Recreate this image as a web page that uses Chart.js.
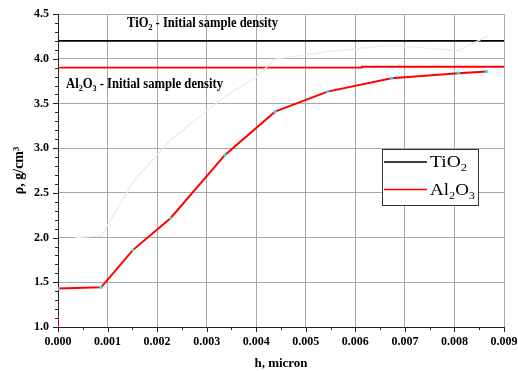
<!DOCTYPE html>
<html><head><meta charset="utf-8">
<script src="https://cdn.jsdelivr.net/npm/chart.js@4/dist/chart.umd.min.js"></script>
<style>html,body{margin:0;padding:0;background:#fff}</style>
</head><body>
<canvas id="c" width="518" height="371" style="display:block"></canvas>
<script>
// ---- data ----
const xTickLabels = ['0.000','0.001','0.002','0.003','0.004','0.005','0.006','0.007','0.008','0.009'];
const yTickLabels = ['1.0','1.5','2.0','2.5','3.0','3.5','4.0','4.5'];
const al2o3H   = [0, 0.00087, 0.00151, 0.00227, 0.00337, 0.00438, 0.00544, 0.00673, 0.00808, 0.00865];
const al2o3Rho = [1.43, 1.444, 1.86, 2.216, 2.924, 3.408, 3.632, 3.782, 3.838, 3.856];
const al2o3EdgeH   = [0, 0];
const al2o3EdgeRho = [1.0, 1.12];
const tio2H   = [0.00035, 0.00088, 0.00098, 0.00152, 0.00225, 0.00337, 0.00397, 0.00438, 0.00545, 0.00673, 0.00808, 0.00868];
const tio2Rho = [2.0, 2.02, 2.12, 2.625, 3.08, 3.58, 3.78, 3.995, 4.08, 4.15, 4.09, 4.255];
const tio2InitH   = [0, 0.009];
const tio2InitRho = [4.2, 4.2];
const al2o3InitH   = [0, 0.00613, 0.00613, 0.009];
const al2o3InitRho = [3.9, 3.9, 3.91, 3.91];

const pts = (xs, ys) => xs.map((x, i) => ({x, y: ys[i]}));
const SERIF = '"Liberation Serif","Times New Roman",serif';

function drawParts(ctx, parts, x, y, size, bold, targetW) {
  const w = bold ? 'bold ' : '';
  const main = w + size + 'px ' + SERIF;
  const sub = w + Math.round(size * 0.65) + 'px ' + SERIF;
  let total = 0;
  parts.forEach(p => { ctx.font = p[1] ? sub : main; total += ctx.measureText(p[0]).width; });
  const sx = targetW ? targetW / total : 1;
  ctx.save();
  ctx.translate(x, y);
  ctx.scale(sx, 1);
  ctx.textBaseline = 'alphabetic';
  ctx.textAlign = 'left';
  ctx.fillStyle = '#000';
  let cx = 0;
  parts.forEach(p => {
    ctx.font = p[1] ? sub : main;
    ctx.fillText(p[0], cx, p[1] ? size * 0.22 : 0);
    cx += ctx.measureText(p[0]).width;
  });
  ctx.restore();
}

const extras = {
  id: 'extras',
  afterDraw(chart) {
    const ctx = chart.ctx;
    const xs = chart.scales.x, ys = chart.scales.y;
    const area = chart.chartArea;
    ctx.save();
    ctx.strokeStyle = '#222';
    ctx.lineWidth = 1;
    for (let k = 0; k <= 35; k++) {
      const v = 1 + k * 0.1;
      const py = Math.round(ys.getPixelForValue(v)) + 0.5;
      const len = (k % 5 === 0) ? 5 : 3;
      ctx.beginPath(); ctx.moveTo(area.left - len, py); ctx.lineTo(area.left, py); ctx.stroke();
    }
    for (let k = 0; k <= 18; k++) {
      const v = k * 0.0005;
      const px = Math.round(xs.getPixelForValue(v)) + 0.5;
      const len = (k % 2 === 0) ? 5 : 3;
      ctx.beginPath(); ctx.moveTo(px, area.bottom); ctx.lineTo(px, area.bottom + len); ctx.stroke();
    }
    ctx.restore();

    drawParts(ctx, [['TiO',0],['2',1],[' - Initial sample density',0]], 127, 27, 14, true, 151);
    drawParts(ctx, [['Al',0],['2',1],['O',0],['3',1],[' - Initial sample density',0]], 66, 88, 14, true, 157);

    ctx.save();
    ctx.fillStyle = '#fff';
    ctx.fillRect(382, 149, 96, 56);
    ctx.strokeStyle = '#333';
    ctx.lineWidth = 1;
    ctx.strokeRect(382.5, 149.5, 96, 56);
    ctx.lineWidth = 1.5;
    ctx.strokeStyle = '#000';
    ctx.beginPath(); ctx.moveTo(384, 162); ctx.lineTo(427, 162); ctx.stroke();
    ctx.strokeStyle = '#ff0000';
    ctx.beginPath(); ctx.moveTo(384, 189.5); ctx.lineTo(427, 189.5); ctx.stroke();
    ctx.restore();
    drawParts(ctx, [['TiO',0],['2',1]], 430, 167, 17, false, 37);
    drawParts(ctx, [['Al',0],['2',1],['O',0],['3',1]], 430, 195, 17, false, 45);
  }
};

new Chart(document.getElementById('c'), {
  type: 'line',
  data: {
    datasets: [
      {label: 'TiO2 measured', data: pts(tio2H, tio2Rho), borderColor: '#ebebeb', borderWidth: 1.3, pointRadius: 0, tension: 0},
      {label: 'Al2O3 edge', data: pts(al2o3EdgeH, al2o3EdgeRho), borderColor: '#ff0000', borderWidth: 1.5, pointRadius: 0},
      {label: 'Al2O3', data: pts(al2o3H, al2o3Rho), borderColor: '#ff0000', borderWidth: 2, pointRadius: 1.6,
        pointBackgroundColor: '#33e0f0', pointBorderWidth: 0, tension: 0},
      {label: 'TiO2 initial', data: pts(tio2InitH, tio2InitRho), borderColor: '#000', borderWidth: 1.6, pointRadius: 0},
      {label: 'Al2O3 initial', data: pts(al2o3InitH, al2o3InitRho), borderColor: '#ff0000', borderWidth: 1.8, pointRadius: 0}
    ]
  },
  options: {
    responsive: false, animation: false,
    layout: {padding: {top: 14, right: 14, left: 0, bottom: 0}},
    plugins: {legend: {display: false}, tooltip: {enabled: false}},
    scales: {
      x: {
        type: 'linear', min: 0, max: 0.009,
        afterBuildTicks: s => { s.ticks = xTickLabels.map(t => ({value: parseFloat(t)})); },
        afterFit: s => { s.height = 44; s.paddingLeft = 0; s.paddingRight = 0; },
        ticks: {callback: (v, i) => xTickLabels[i], color: '#000', padding: 8, maxRotation: 0, autoSkip: false,
          font: {family: SERIF, size: 12, weight: 'bold'}},
        grid: {color: '#a8a8a8', lineWidth: 1, drawTicks: false},
        border: {color: '#222', width: 1},
        title: {display: true, text: 'h, micron', color: '#000', padding: {top: 0, bottom: 0},
          font: {family: SERIF, size: 13, weight: 'bold'}}
      },
      y: {
        type: 'linear', min: 1, max: 4.5,
        afterBuildTicks: s => { s.ticks = yTickLabels.map(t => ({value: parseFloat(t)})); },
        afterFit: s => { s.width = 58; s.paddingTop = 0; s.paddingBottom = 0; },
        ticks: {callback: (v, i) => yTickLabels[i], color: '#000', padding: 9, autoSkip: false,
          font: {family: SERIF, size: 12, weight: 'bold'}},
        grid: {color: '#a8a8a8', lineWidth: 1, drawTicks: false},
        border: {color: '#222', width: 1},
        title: {display: true, text: 'ρ, g/cm³', color: '#000', padding: {top: 11, bottom: 0},
          font: {family: SERIF, size: 14, weight: 'bold'}}
      }
    }
  },
  plugins: [extras]
});
</script>
</body></html>
